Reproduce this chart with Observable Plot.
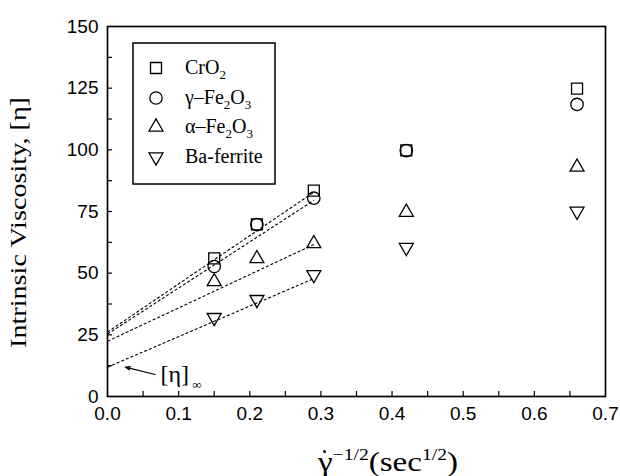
<!DOCTYPE html>
<html>
<head>
<meta charset="utf-8">
<script src="https://cdn.jsdelivr.net/npm/d3@7"></script>
<script src="https://cdn.jsdelivr.net/npm/@observablehq/plot@0.6"></script>
<style>
  html, body { margin: 0; padding: 0; background: white; }
  #chart { width: 620px; height: 476px; }
</style>
</head>
<body>
<div id="chart"></div>
<script>
// ---- data ----
const shearX = [0.15, 0.21, 0.29, 0.42, 0.66];
const cro2   = [56.0, 69.8, 83.5, 99.8, 124.8];
const gFe2O3 = [52.7, 69.7, 80.4, 99.7, 118.4];
const aFe2O3 = [46.6, 55.9, 62.0, 74.7, 93.0];
const baFer  = [32.0, 39.3, 49.4, 60.4, 75.1];
const seriesNames = ["CrO2", "γ–Fe2O3", "α–Fe2O3", "Ba-ferrite"];
const seriesValues = [cro2, gFe2O3, aFe2O3, baFer];
const seriesSymbols = ["square", "circle", "triangle", "triangle"];
const seriesRotate = [0, 0, 0, 180];
const seriesR = [6.2, 6.2, 5.2, 5.2];

// linear fits: value at x = fitRange[0] and at x = fitRange[1]
const fitRange = [0, 0.29];
const fitStart = [26.1, 25.3, 22.4, 11.9];
const fitEnd   = [82.8, 79.5, 61.6, 47.8];

// annotation [η]∞
const arrowFrom = [0.067, 8.9];
const arrowTo   = [0.025, 11.9];
const annoText  = [0.0745, 8.9];
const annoSub   = [0.119, 4.6];

const xLabelTicks = [0, 0.1, 0.2, 0.3, 0.4, 0.5, 0.6, 0.7];
const xAllTicks = [0.05, 0.1, 0.15, 0.2, 0.25, 0.3, 0.35, 0.4, 0.45, 0.5, 0.55, 0.6, 0.65];
const yLabelTicks = [0, 25, 50, 75, 100, 125, 150];
const yAllTicks = [12.5, 25, 37.5, 50, 62.5, 75, 87.5, 100, 112.5, 125, 137.5];

// ---- tables ----
const fits = fitStart.map((s, i) => ({x1: fitRange[0], y1: s, x2: fitRange[1], y2: fitEnd[i]}));
const dotMarks = seriesValues.map((vals, i) =>
  Plot.dot(shearX.map((x, j) => ({x, y: vals[j]})), {
    x: "x", y: "y", symbol: seriesSymbols[i], rotate: seriesRotate[i], r: seriesR[i],
    stroke: "black", strokeWidth: 1.3, fill: "none"
  })
);

const serif = "'Liberation Serif', 'Times New Roman', serif";

const plot = Plot.plot({
  width: 620, height: 476,
  marginLeft: 107, marginRight: 15, marginTop: 26, marginBottom: 80,
  x: {domain: [0, 0.7]},
  y: {domain: [0, 150]},
  style: {fontFamily: "'Liberation Sans', Arial, sans-serif", fontSize: "19px", color: "black", background: "white", overflow: "visible"},
  marks: [
    Plot.axisX(xAllTicks, {tickSize: -5, tickFormat: () => "", label: null, strokeWidth: 1.2}),
    Plot.axisX(xLabelTicks, {tickSize: 0, tickPadding: 10, tickFormat: d3.format(".1f"), label: null}),
    Plot.axisY(yAllTicks, {tickSize: -5, tickFormat: () => "", label: null, strokeWidth: 1.2}),
    Plot.axisY(yLabelTicks, {tickSize: 0, tickPadding: 9, tickFormat: d3.format("d"), label: null}),
    Plot.link(fits, {x1: "x1", y1: "y1", x2: "x2", y2: "y2", stroke: "black", strokeWidth: 1.1, strokeDasharray: "3,2"}),
    ...dotMarks,
    Plot.arrow([{x1: arrowFrom[0], y1: arrowFrom[1], x2: arrowTo[0], y2: arrowTo[1]}],
      {x1: "x1", y1: "y1", x2: "x2", y2: "y2", stroke: "black", strokeWidth: 1.1, headLength: 7, headAngle: 40, inset: 0}),
    Plot.text([{x: annoText[0], y: annoText[1]}], {x: "x", y: "y", text: () => "[η]", textAnchor: "start", fontSize: 24, fontFamily: serif}),
    Plot.text([{x: annoSub[0], y: annoSub[1]}], {x: "x", y: "y", text: () => "∞", textAnchor: "start", fontSize: 13, fontFamily: serif}),
    Plot.frame({stroke: "black", strokeWidth: 1.7})
  ]
});

document.getElementById("chart").appendChild(plot);

// ---- axis titles and legend drawn into the same SVG ----
const svg = d3.select(plot);

// x-axis title: γ̇^{-1/2}(sec^{1/2})
const xt = svg.append("text")
  .attr("x", 318).attr("y", 471)
  .attr("text-anchor", "start")
  .attr("font-family", serif).attr("font-size", 27).attr("fill", "black")
  .attr("textLength", 140).attr("lengthAdjust", "spacingAndGlyphs");
xt.append("tspan").text("γ");
xt.append("tspan").attr("dy", -11).attr("font-size", 16).text("−1/2");
xt.append("tspan").attr("dy", 11).text("(sec");
xt.append("tspan").attr("dy", -11).attr("font-size", 16).text("1/2");
xt.append("tspan").attr("dy", 11).text(")");
// dot above gamma (the time-derivative mark)
svg.append("circle").attr("cx", 324.5).attr("cy", 451.5).attr("r", 1.5).attr("fill", "black");

// y-axis title
svg.append("text")
  .attr("transform", "translate(26,222.5) rotate(-90)")
  .attr("text-anchor", "middle")
  .attr("font-family", serif).attr("font-size", 23).attr("fill", "black")
  .attr("textLength", 251).attr("lengthAdjust", "spacingAndGlyphs")
  .text("Intrinsic Viscosity, [η]");

// legend
const lg = svg.append("g");
lg.append("rect").attr("x", 133).attr("y", 43).attr("width", 142).attr("height", 141)
  .attr("fill", "white").attr("stroke", "black").attr("stroke-width", 1.5);
const symType = {square: d3.symbolSquare, circle: d3.symbolCircle, triangle: d3.symbolTriangle};
const rowY = [68, 98, 127, 157];
seriesNames.forEach((name, i) => {
  const r = seriesR[i];
  lg.append("path")
    .attr("d", d3.symbol(symType[seriesSymbols[i]], Math.PI * r * r)())
    .attr("transform", `translate(156,${rowY[i]}) rotate(${seriesRotate[i]})`)
    .attr("fill", "none").attr("stroke", "black").attr("stroke-width", 1.3);
  const t = lg.append("text").attr("x", 185).attr("y", rowY[i] + 6)
    .attr("text-anchor", "start")
    .attr("font-family", serif).attr("font-size", 20).attr("fill", "black");
  const parts = name.split(/(\d+)/).filter(s => s.length);
  let sub = false;
  parts.forEach(p => {
    const isNum = /^\d+$/.test(p);
    const ts = t.append("tspan").text(p).attr("font-size", isNum ? 13 : 20);
    if (isNum && !sub) { ts.attr("dy", 5); sub = true; }
    else if (!isNum && sub) { ts.attr("dy", -5); sub = false; }
  });
});
</script>
</body>
</html>
